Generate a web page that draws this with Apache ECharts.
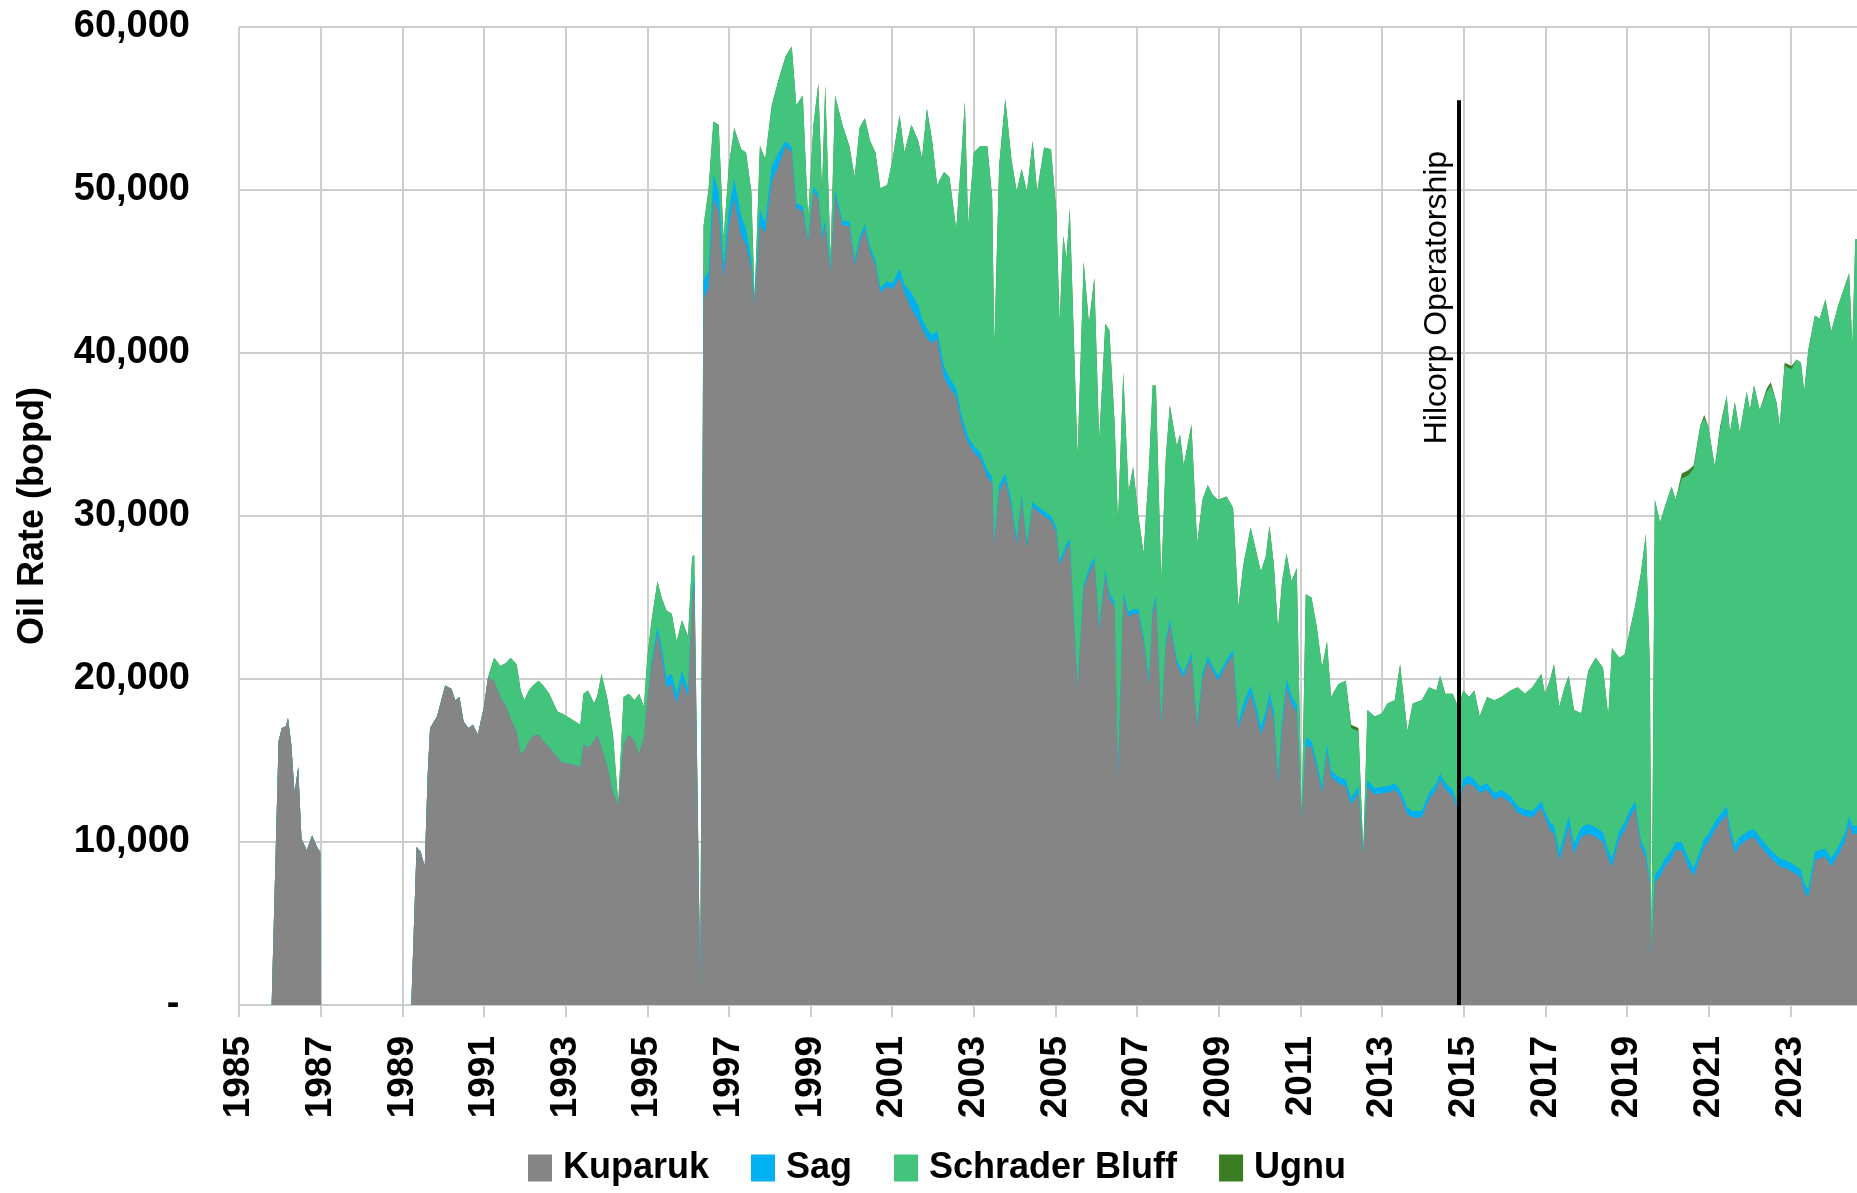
<!DOCTYPE html>
<html><head><meta charset="utf-8">
<script src="https://cdn.jsdelivr.net/npm/echarts@6/dist/echarts.min.js"></script>
<style>html,body{margin:0;padding:0;background:#fff}#c{width:1857px;height:1193px}</style>
</head><body><div id="c"></div>
<script>
// ---- data (bopd), all series share the same date grid ----
const dates = [
 1985.80,1985.97,1986.05,1986.15,1986.20,1986.28,1986.36,1986.45,1986.53,1986.66,1986.79,1986.93,1986.99,1987.01,
 1989.22,1989.35,1989.45,1989.55,1989.62,1989.68,1989.85,1990.05,1990.20,1990.30,1990.40,1990.50,1990.62,1990.73,1990.85,1991.00,
 1991.10,1991.25,1991.40,1991.55,1991.65,1991.80,1991.90,1991.99,1992.10,1992.20,1992.34,1992.45,1992.60,1992.80,1992.90,1993.10,1993.36,1993.44,1993.55,1993.70,1993.78,1993.88,1994.03,1994.16,1994.29,1994.42,1994.55,1994.69,1994.80,1994.92,
 1995.00,1995.10,1995.25,1995.35,1995.47,1995.60,1995.72,1995.85,1996.00,1996.10,1996.15,1996.30,1996.38,
 1996.50,1996.62,1996.75,1996.87,1997.00,1997.13,1997.30,1997.42,1997.55,1997.63,1997.76,1997.89,1998.05,1998.22,1998.39,1998.54,1998.65,1998.81,1998.94,1999.07,1999.19,1999.28,1999.36,1999.49,1999.60,1999.78,1999.95,
 2000.08,2000.20,2000.33,2000.46,2000.59,2000.71,2000.88,2001.01,2001.18,2001.30,2001.47,2001.64,2001.73,2001.85,2001.98,2002.10,2002.27,2002.40,2002.57,2002.70,2002.78,2002.86,2003.00,2003.16,2003.33,2003.45,2003.50,2003.62,2003.77,2003.92,2004.05,2004.17,2004.30,2004.44,2004.55,2004.72,2004.89,
 2005.02,2005.10,2005.19,2005.27,2005.35,2005.54,2005.69,2005.82,2005.95,2006.07,2006.22,2006.32,2006.45,2006.53,2006.66,2006.79,2006.90,2007.03,2007.16,2007.29,2007.38,2007.46,2007.59,2007.70,2007.80,2007.97,2008.05,2008.14,2008.33,2008.47,2008.60,2008.73,2008.85,2008.98,
 2009.19,2009.35,2009.48,2009.60,2009.78,2009.90,2010.03,2010.15,2010.24,2010.35,2010.45,2010.55,2010.66,2010.78,2010.91,2011.03,
 2011.13,2011.27,2011.40,2011.53,2011.65,2011.75,2011.93,2012.11,2012.24,2012.42,2012.54,2012.64,2012.82,2013.00,2013.13,2013.31,2013.44,2013.62,2013.75,2013.97,2014.15,2014.33,2014.42,2014.55,2014.73,2014.86,2014.99,
 2015.13,2015.26,2015.39,2015.57,2015.75,2015.92,2016.15,2016.32,2016.50,2016.68,2016.90,2016.99,2017.12,2017.21,2017.34,2017.47,2017.57,2017.70,2017.88,2018.05,2018.23,2018.41,2018.54,2018.63,2018.81,2018.94,2019.07,2019.20,2019.34,2019.46,2019.56,2019.60,
 2019.68,2019.81,2019.93,2020.09,2020.19,2020.34,2020.50,2020.63,2020.79,2020.89,2020.99,2021.15,2021.28,2021.44,2021.52,2021.64,2021.76,2021.93,2022.01,2022.11,2022.25,2022.42,2022.52,2022.66,2022.74,2022.86,2023.03,2023.15,2023.26,2023.34,2023.44,2023.60,2023.72,2023.86,2024.00,2024.17,2024.33,2024.44,2024.52,2024.59,2024.80
];
const kuparuk = [
 0,16200,17000,17100,17600,16000,13000,14600,10200,9500,10400,9600,9400,0,
 0,9700,9400,8500,14000,17000,17700,19600,19400,18700,18900,17400,17000,17200,16600,18300,
 20100,19900,18900,18300,17600,16800,15400,15600,16200,16500,16600,16200,15800,15200,14900,14800,14600,16000,15800,16200,16600,15800,14600,13000,12300,16000,16600,16200,15400,16500,
 18700,20700,22800,21500,19500,19700,18500,19900,18900,24800,26000,900,43300,
 44000,49500,48700,44600,47800,49500,47200,46600,45200,43000,47800,47400,50500,51500,52700,52300,48900,48700,46800,49900,49500,47000,47800,45000,49700,47800,47800,
 45400,46800,47600,46200,45400,43700,44100,43900,44600,43700,42700,42000,41500,40900,40600,40900,38500,37900,37300,35700,35000,34500,33900,33500,32400,32000,28300,31500,32200,30500,28300,31000,28100,30600,30300,30000,29700,
 29000,27000,27500,28000,28300,19500,25500,26500,27200,23000,26400,25000,24400,14000,25000,23800,24000,24000,22300,19700,24000,24800,17200,22000,23400,20900,20500,20100,21300,17000,20000,21100,20500,19900,
 20900,21500,17000,17900,19100,18000,16600,17500,18700,17500,13600,17000,19500,18500,17900,11300,
 15900,15800,14500,13000,15600,14000,13600,13400,12300,13000,9300,13400,12900,13000,13000,13200,12800,11700,11500,11500,12600,13200,13800,13200,12800,11900,13400,
 13600,13400,13000,13200,12600,12800,12400,11800,11600,11500,12100,11500,10700,10500,8900,10000,11000,9300,10300,10500,10300,10000,9000,8500,10200,10700,11500,12100,9700,9000,7400,3000,
 7500,7900,8500,9000,9500,9500,8500,7900,9000,9700,10000,10700,11200,11700,10500,9300,9800,10100,10200,10300,9800,9300,9000,8700,8500,8400,8200,8000,7800,7000,6600,8900,9000,9100,8500,9200,10000,11100,10500,10500,10500
];
const sag = [
 0,0,0,0,0,0,0,0,0,0,0,0,0,0,
 0,0,0,0,0,0,0,0,0,0,0,0,0,0,0,0,
 0,0,0,0,0,0,0,0,0,0,0,0,0,0,0,0,0,0,0,0,0,0,0,0,0,0,0,0,0,0,
 0,300,400,500,600,600,600,600,500,400,400,0,1200,
 1000,1500,1200,800,1000,1200,1200,1000,500,200,1000,600,1000,800,300,300,300,300,200,300,300,300,300,300,300,300,300,
 300,300,300,300,300,300,300,400,600,500,1000,900,600,600,500,500,700,600,500,500,500,400,400,400,400,400,300,400,400,400,300,300,300,300,300,300,300,
 300,300,300,300,300,200,300,300,300,300,300,300,300,200,300,300,300,300,300,300,300,300,200,300,300,300,300,300,300,200,300,300,300,300,
 300,300,300,600,500,500,500,500,500,500,400,500,500,500,500,100,
 500,400,400,400,400,400,400,400,400,400,100,400,400,400,400,400,400,400,400,400,400,400,400,400,400,300,500,
 500,400,400,400,400,400,400,400,400,400,400,400,500,500,500,600,600,600,600,600,600,600,500,500,500,500,500,400,400,400,300,100,
 500,500,500,500,500,500,500,500,500,500,500,500,500,500,500,500,500,500,500,500,500,500,500,500,500,500,500,500,500,500,500,500,500,500,500,500,500,500,500,500,500
];
const schraderBluff = [
 0,0,0,0,0,0,0,0,0,0,0,0,0,0,
 0,0,0,0,0,0,0,0,0,0,0,0,0,0,0,0,
 0,1400,1900,2700,3700,4100,3900,3100,3100,3100,3300,3400,3300,2800,3000,2800,2600,3100,3500,2300,2400,4500,4100,3600,100,2900,2500,2500,3700,1800,
 2600,2500,2800,3000,4100,3700,3200,3100,3200,2300,1200,100,3300,
 5000,3200,4100,1600,2700,3100,4100,4700,4200,100,3900,3900,3700,4500,5200,6200,6000,6800,1200,3800,6700,2600,8300,500,5800,5900,4600,
 5100,6700,6500,6500,6600,6100,5900,7600,9400,8100,10300,10100,9800,13500,11900,8900,11900,12300,9800,16100,19900,12900,18000,18800,19900,17100,11700,19600,23000,21000,21300,20000,21500,22100,19300,22300,22500,
 19400,14500,19400,17500,20300,13900,19800,15000,17100,11300,15100,16100,10900,15300,13500,7400,8700,5700,5100,13000,13700,12900,8600,11200,13100,13100,14200,12700,14000,11100,10700,10500,10500,10800,
 10000,8700,7100,8500,9700,9500,9500,9500,10200,9000,9000,8500,7700,7000,8400,0,
 8800,8800,8300,7300,6300,4500,5700,6100,4300,3400,0,4300,4400,4500,5100,5100,7700,4700,6600,6800,6500,5700,6000,5500,5900,6100,5400,
 4800,5500,4300,5300,5700,5700,6500,7300,7100,7600,7800,7200,8800,9900,8900,8900,8600,8200,7000,9400,10400,10100,8200,12900,10600,10300,11000,12000,16400,19500,13000,100,
 23000,21200,21600,22300,21000,22300,23500,24500,26000,25800,25000,21800,23600,25200,24100,27200,24800,27000,25800,27200,26200,27800,28500,27800,26500,30300,30300,31100,31100,30100,33100,32900,32600,33700,32300,33200,33600,33300,29400,36000,36000
];
const ugnu = [
 0,0,0,0,0,0,0,0,0,0,0,0,0,0,
 0,0,0,0,0,0,0,0,0,0,0,0,0,0,0,0,
 0,0,0,0,0,0,0,0,0,0,0,0,0,0,0,0,0,0,0,0,0,0,0,0,0,0,0,0,0,0,
 0,0,0,0,0,0,0,0,0,0,0,0,0,
 0,0,0,0,0,0,0,0,0,0,0,0,0,0,0,0,0,0,0,0,0,0,0,0,0,0,0,
 0,0,0,0,0,0,0,0,0,0,0,0,0,0,0,0,0,0,0,0,0,0,0,0,0,0,0,0,0,0,0,0,0,0,0,0,0,
 0,0,0,0,0,0,0,0,0,0,0,0,0,0,0,0,0,0,0,0,0,0,0,0,0,0,0,0,0,0,0,0,0,0,
 0,0,0,0,0,0,0,0,0,0,0,0,0,0,0,0,
 0,0,0,0,0,0,0,0,200,200,0,0,0,0,0,0,0,0,0,0,0,0,0,0,0,0,0,
 0,0,0,0,0,0,0,0,0,0,0,0,0,0,0,0,0,0,0,0,0,0,0,0,0,0,0,0,0,0,0,0,
 0,0,0,0,0,300,300,200,0,200,0,0,200,0,0,0,0,0,0,0,0,200,200,0,0,200,200,0,0,0,0,0,0,0,0,0,0,0,0,0,0
];
const seriesNames = ['Kuparuk', 'Sag', 'Schrader Bluff', 'Ugnu'];
const seriesColors = ['#858585', '#00B0F0', '#43C47C', '#3B7D23'];
const yAxisTitle = 'Oil Rate (bopd)';
const hilcorpYear = 2014.88;
const hilcorpLineTop = 55500;
const hilcorpLabelSpan = [34200, 52600];
const hilcorpLabel = 'Hilcorp Operatorship';

const values = [kuparuk, sag, schraderBluff, ugnu];
values.forEach((a, i) => {
  if (a.length !== dates.length) throw new Error('length mismatch ' + seriesNames[i] + ' ' + a.length + ' vs ' + dates.length);
});

// stacked (cumulative) tops, computed from the series arrays
const cumulative = [];
values.forEach((arr, i) => {
  cumulative.push(arr.map((v, k) => v + (i > 0 ? cumulative[i - 1][k] : 0)));
});

const FONT = "'Liberation Sans', Arial, sans-serif";
const GRID = '#CDCDCD';

// draw top layer first so lower layers sit in front of it
const series = [3, 2, 1, 0].map(i => ({
  name: seriesNames[i],
  type: 'line',
  data: dates.map((d, k) => [d, cumulative[i][k]]),
  showSymbol: false,
  symbol: 'none',
  lineStyle: { width: 0 },
  itemStyle: { color: seriesColors[i] },
  areaStyle: { color: seriesColors[i], opacity: 1 },
  emphasis: { disabled: true },
  silent: true,
  z: 2
}));

series[3].markLine = {
  silent: true,
  symbol: ['none', 'none'],
  animation: false,
  lineStyle: { color: '#000', width: 4, type: 'solid' },
  label: { show: false },
  data: [
    [{ coord: [hilcorpYear, 0] }, { coord: [hilcorpYear, hilcorpLineTop] }],
    [{ coord: [hilcorpYear, hilcorpLabelSpan[0]], lineStyle: { width: 0, color: 'rgba(0,0,0,0)' },
       label: { show: true, position: 'insideMiddleTop', formatter: hilcorpLabel, color: '#000',
                fontSize: 32, fontFamily: FONT, fontWeight: 'normal', distance: 6 } },
     { coord: [hilcorpYear, hilcorpLabelSpan[1]] }]
  ]
};

const legendTextStyle = { fontSize: 36, fontWeight: 'bold', color: '#000', fontFamily: FONT, padding: [0, 0, 0, 6] };

const chart = echarts.init(document.getElementById('c'), null, { renderer: 'canvas' });
chart.setOption({
  animation: false,
  backgroundColor: '#fff',
  textStyle: { fontFamily: FONT },
  grid: { left: 239, width: 1633, top: 27, bottom: 188, containLabel: false, outerBoundsMode: 'none' },
  legend: {
    data: seriesNames.map(n => n === 'Sag'
      ? { name: n, textStyle: Object.assign({}, legendTextStyle, { padding: [0, 8, 0, 6] }) }
      : { name: n }),
    left: 523,
    top: 1145,
    icon: 'rect',
    itemWidth: 24,
    itemHeight: 27,
    itemGap: 42,
    textStyle: legendTextStyle
  },
  xAxis: {
    type: 'value',
    min: 1985, max: 2025, interval: 2,
    axisLine: { show: true, lineStyle: { color: GRID, width: 2 } },
    axisTick: { show: true, length: 12, inside: false, lineStyle: { color: GRID, width: 2 } },
    splitLine: { show: true, lineStyle: { color: GRID, width: 2 } },
    axisLabel: { rotate: 90, margin: 31, fontSize: 37, fontWeight: 'bold', color: '#000', fontFamily: FONT,
                 showMaxLabel: false, formatter: v => String(v) }
  },
  yAxis: {
    type: 'value',
    min: 0, max: 60000, interval: 10000,
    name: yAxisTitle,
    nameLocation: 'middle',
    nameRotate: 90,
    nameGap: 188,
    nameTextStyle: { fontSize: 36, fontWeight: 'bold', color: '#000', fontFamily: FONT },
    axisLine: { show: false },
    axisTick: { show: false },
    splitLine: { show: true, lineStyle: { color: GRID, width: 2 } },
    axisLabel: { margin: 49, fontSize: 38, fontWeight: 'bold', color: '#000', fontFamily: FONT,
                 formatter: v => v === 0 ? '- ' : String(v).replace(/\B(?=(\d{3})+(?!\d))/g, ',') }
  },
  series: series
});
</script>
</body></html>
